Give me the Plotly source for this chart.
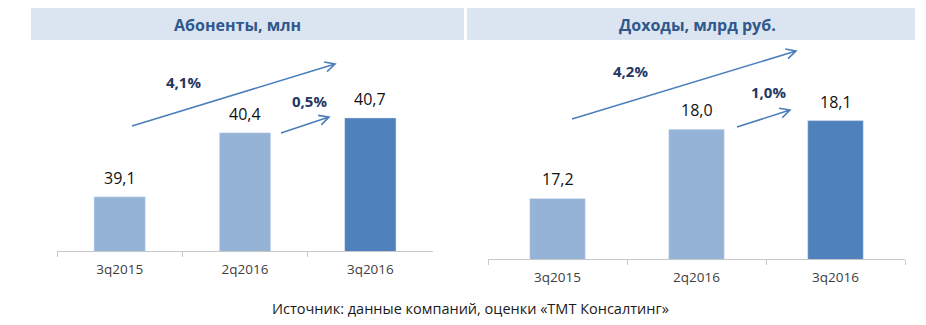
import math
import plotly.graph_objects as go

W, H = 926, 325

categories = ["3q2015", "2q2016", "3q2016"]
subscribers = [39.1, 40.4, 40.7]
revenue = [17.2, 18.0, 18.1]
growth_subs = ["4,1%", "0,5%"]
growth_rev = ["4,2%", "1,0%"]
titles = ["Абоненты, млн", "Доходы, млрд руб."]
source_text = "Источник: данные компаний, оценки «ТМТ Консалтинг»"

LIGHT = "#95B3D7"
DARK = "#4F81BD"
bar_colors = [LIGHT, LIGHT, DARK]
ARROW = "#4A7EBB"
PCT_COL = "#1F3864"
TITLE_COL = "#30588C"
FONT = "Open Sans"


def px(x):
    return x / W


def py(y):
    return 1 - y / H


fig = go.Figure()
fig.add_trace(go.Bar(x=categories, y=subscribers, marker_color=bar_colors,
                     width=0.41, xaxis="x", yaxis="y", hoverinfo="skip"))
fig.add_trace(go.Bar(x=categories, y=revenue, marker_color=bar_colors,
                     width=0.40, xaxis="x2", yaxis="y2", hoverinfo="skip"))

axis_common = dict(showline=True, linecolor="#C8C8C8", linewidth=1,
                   ticks="outside", tickson="boundaries", ticklen=5,
                   tickcolor="#C8C8C8", showgrid=False, zeroline=False,
                   ticklabelstandoff=6,
                   tickfont=dict(family=FONT, size=13.5, color="#404040"),
                   fixedrange=True)

fig.update_layout(
    width=W, height=H,
    margin=dict(l=0, r=0, t=0, b=0),
    paper_bgcolor="white", plot_bgcolor="rgba(0,0,0,0)",
    showlegend=False,
    separators=", ",
    xaxis=dict(domain=[px(57), px(433)], anchor="y", **axis_common),
    yaxis=dict(domain=[py(251), py(50)], range=[38, 38 + 201 / 49.3],
               visible=False, anchor="x"),
    xaxis2=dict(domain=[px(488), px(905)], anchor="y2", **axis_common),
    yaxis2=dict(domain=[py(259), py(50)], range=[16.5, 16.5 + 209 / 86.5],
                visible=False, anchor="x2"),
)

shapes = []
annotations = []


def label(x, y, text, size, color, bold=False):
    return dict(xref="paper", yref="paper", x=px(x), y=py(y),
                text=f"<b>{text}</b>" if bold else text, showarrow=False,
                xanchor="center", yanchor="middle",
                font=dict(family=FONT, size=size, color=color))


# header bands
for (x0, x1), tx, t in zip([(31, 464), (467, 915)], [237, 697], titles):
    shapes.append(dict(type="rect", xref="paper", yref="paper",
                       x0=px(x0), x1=px(x1), y0=py(40), y1=py(8),
                       fillcolor="#DBE5F1", line=dict(width=0), layer="below"))
    annotations.append(label(tx, 25, t, 16, TITLE_COL, bold=True))

# value labels
for xa, ya, vals in [("x", "y", subscribers), ("x2", "y2", revenue)]:
    for c, v in zip(categories, vals):
        annotations.append(dict(xref=xa, yref=ya, x=c, y=v,
                                text=f"{v:.1f}".replace(".", ","),
                                showarrow=False, xanchor="center",
                                yanchor="bottom", yshift=6,
                                font=dict(family=FONT, size=16, color="#111111")))


def arrow(x0, y0, x1, y1, head=11, ang=27):
    a = math.atan2(y1 - y0, x1 - x0)
    pts = []
    for s in (1, -1):
        b = a + math.pi - s * math.radians(ang)
        pts.append((x1 + head * math.cos(b), y1 + head * math.sin(b)))
    path = (f"M {px(x0)},{py(y0)} L {px(x1)},{py(y1)} "
            f"M {px(pts[0][0])},{py(pts[0][1])} L {px(x1)},{py(y1)} "
            f"L {px(pts[1][0])},{py(pts[1][1])}")
    return dict(type="path", xref="paper", yref="paper", path=path,
                line=dict(color=ARROW, width=1.6))


shapes += [arrow(132, 126, 335, 64), arrow(281, 133, 329, 117),
           arrow(572, 119, 796, 51), arrow(737, 127, 790, 110)]

for (x, y), t in zip([(183, 82), (309, 101)], growth_subs):
    annotations.append(label(x, y, t, 15, PCT_COL, bold=True))
for (x, y), t in zip([(630, 71), (768, 92)], growth_rev):
    annotations.append(label(x, y, t, 15, PCT_COL, bold=True))

annotations.append(label(470, 308, source_text, 14.5, "#1A1A1A"))

fig.update_layout(shapes=shapes, annotations=annotations)
fig.write_html("out.html", config={"displayModeBar": False})
